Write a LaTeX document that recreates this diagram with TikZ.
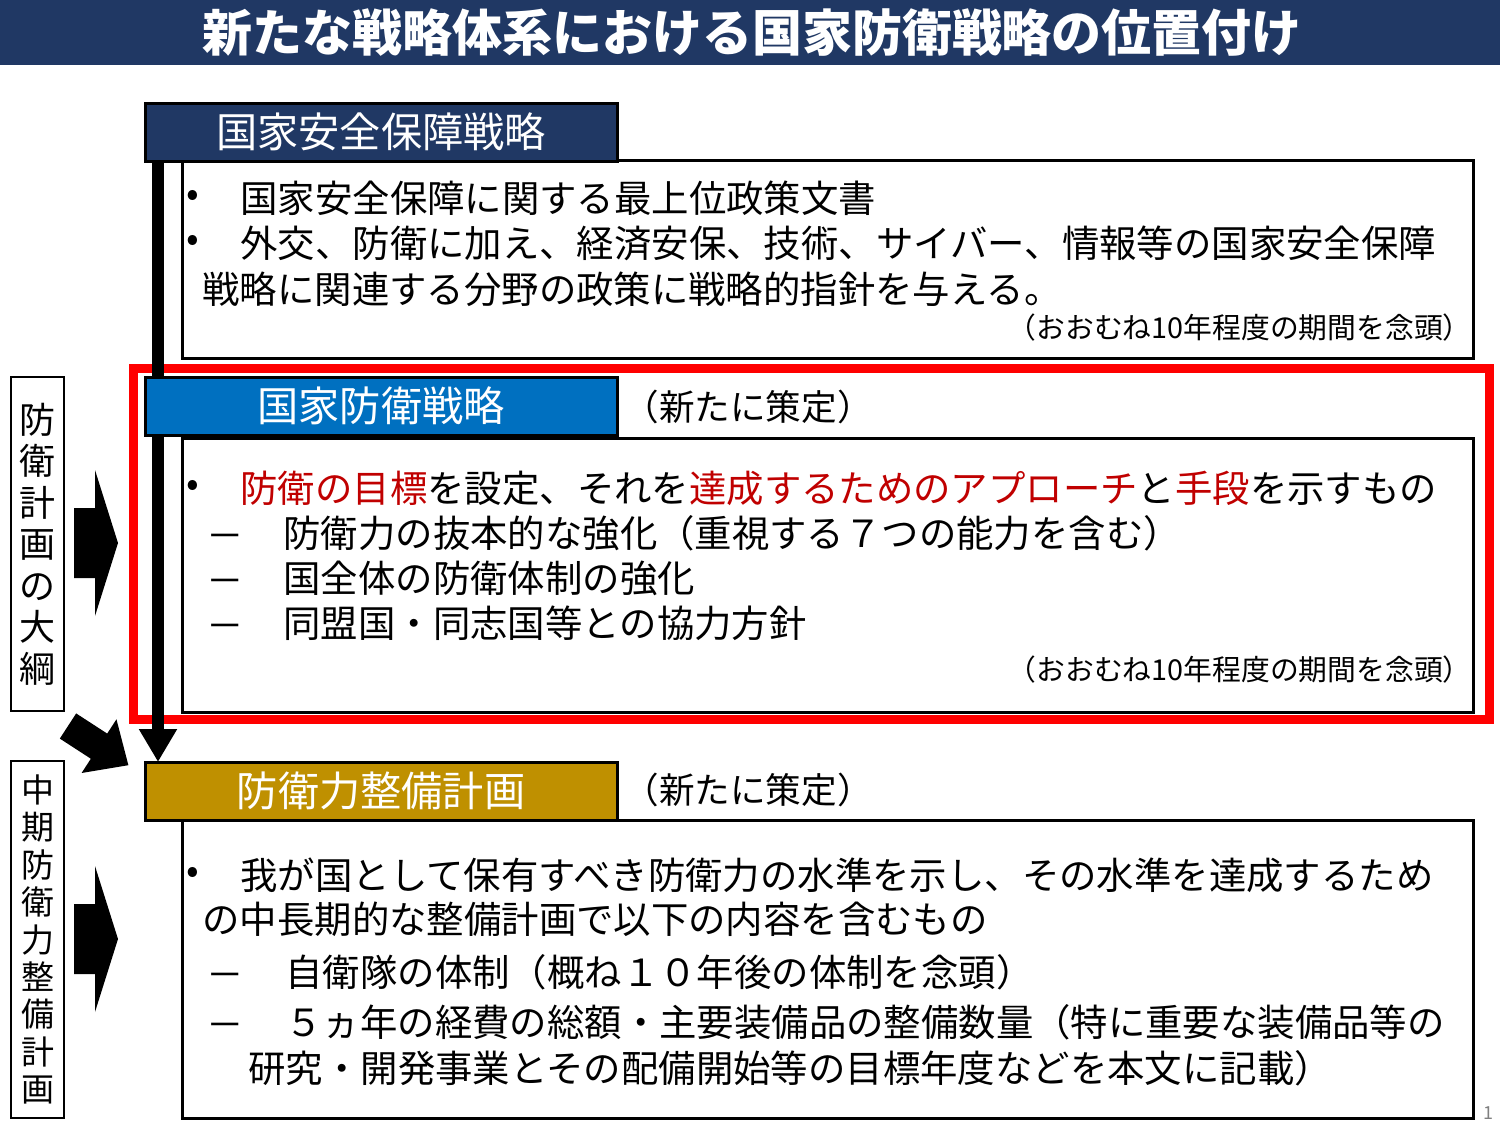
\documentclass[tikz,border=0pt]{standalone}
\usepackage{fontspec}
\setmainfont{Noto Sans CJK JP}
\usetikzlibrary{arrows.meta, fit, positioning}
\definecolor{navy}{HTML}{203864}
\definecolor{hblue}{HTML}{0070C0}
\definecolor{gold}{HTML}{BF9000}
\definecolor{dred}{HTML}{C00000}
\tikzset{
    hdr/.style={draw=black, line width=1.5pt, text=white, minimum width=236pt, minimum height=29pt, inner sep=0pt, font=\fontsize{20.6}{22}\selectfont},
    bodybox/.style={draw=black, line width=1.5pt, inner sep=0pt},
    sidebox/.style={draw=black, line width=1.2pt, inner sep=0pt},
    txt/.style={anchor=west, inner sep=0pt, font=\fontsize{18.7}{20}\selectfont},
    dsh/.style={txt, yshift=-4.5pt},
    note/.style={anchor=east, inner sep=0pt, font=\fontsize{14.4}{16}\selectfont},
    newtag/.style={anchor=west, inner sep=0pt, font=\fontsize{17.8}{19}\selectfont},
    spine/.style={line width=6pt, -{Triangle[width=18pt, length=16.5pt]}},
}
\begin{document}
\begin{tikzpicture}[x=0.5pt, y=-0.5pt]
    \useasboundingbox (0,0) rectangle (1500,1125);
    % title
    \fill[navy] (0,0) rectangle (1500,65);
    \node[text=white, font=\fontsize{25}{27}\bfseries\selectfont] (title) at (752,33) {新たな戦略体系における国家防衛戦略の位置付け};
    % red frame
    \draw[red, line width=4.5pt] (133,368) rectangle (1489,719);
    % spine
    \coordinate (top) at (158,161);
    \coordinate (bot) at (158,762);
    \draw[spine] (top) -- (bot);
    % body boxes
    \node[bodybox, fit={(182,160) (1473,358)}] (b1) {};
    \node[bodybox, fit={(182,438) (1473,712)}] (b2) {};
    \node[bodybox, fit={(182,820) (1473,1118)}] (b3) {};
    % headers
    \node[hdr, fill=navy] (h1) at (381,132) {国家安全保障戦略};
    \node[hdr, fill=hblue] (h2) at (381,406) {国家防衛戦略};
    \node[hdr, fill=gold] (h3) at (381,791) {防衛力整備計画};
    \node[newtag] (n2) at (623,407) {（新たに策定）};
    \node[newtag] (n3) at (623,790) {（新たに策定）};
    % box 1
    \node[txt] (b1a) at (186,198) {•};
    \node[txt] (b1t1) at (240,198) {国家安全保障に関する最上位政策文書};
    \node[txt] (b1b) at (186,243) {•};
    \node[txt] (b1t2) at (240,243) {外交、防衛に加え、経済安保、技術、サイバー、情報等の国家安全保障};
    \node[txt] (b1t3) at (202,289) {戦略に関連する分野の政策に戦略的指針を与える。};
    \node[note] (b1n) at (1472,328) {（おおむね10年程度の期間を念頭）};
    % box 2
    \node[txt] (b2a) at (186,488) {•};
    \node[txt] (b2t1) at (240,488) {\textcolor{dred}{防衛の目標}を設定、それを\textcolor{dred}{達成するためのアプローチ}と\textcolor{dred}{手段}を示すもの};
    \foreach \y/\s [count=\i] in {533/防衛力の抜本的な強化（重視する７つの能力を含む）, 578/国全体の防衛体制の強化, 623/同盟国・同志国等との協力方針}{
        \node[dsh] (b2d\i) at (206,\y) {－};
        \node[txt] (b2s\i) at (283,\y) {\s};
    }
    \node[note] (b2n) at (1472,670) {（おおむね10年程度の期間を念頭）};
    % box 3
    \node[txt] (b3a) at (186,875) {•};
    \node[txt] (b3t1) at (240,875) {我が国として保有すべき防衛力の水準を示し、その水準を達成するため};
    \node[txt] (b3t2) at (202,919) {の中長期的な整備計画で以下の内容を含むもの};
    \node[dsh] (b3d1) at (206,972) {－};
    \node[txt] (b3s1) at (285,972) {自衛隊の体制（概ね１０年後の体制を念頭）};
    \node[dsh] (b3d2) at (206,1022) {－};
    \node[txt] (b3s2) at (285,1022) {５ヵ年の経費の総額・主要装備品の整備数量（特に重要な装備品等の};
    \node[txt] (b3s3) at (248,1068) {研究・開発事業とその配備開始等の目標年度などを本文に記載）};
    % side labels
    \node[sidebox, fit={(11,377) (64,711)}] (l1) {};
    \node[align=center, inner sep=0pt, font=\fontsize{18}{20.75}\selectfont] at (l1.center) {防\\衛\\計\\画\\の\\大\\綱};
    \node[sidebox, fit={(11,761) (64,1118)}] (l2) {};
    \node[align=center, inner sep=0pt, font=\fontsize{16.5}{18.7}\selectfont] at (l2.center) {中\\期\\防\\衛\\力\\整\\備\\計\\画};
    % block arrows
    \foreach \yc in {543,939}{
        \fill (74,{\yc-35}) -- (95,{\yc-35}) -- (95,{\yc-73}) -- (118,\yc) -- (95,{\yc+73}) -- (95,{\yc+35}) -- (74,{\yc+35}) -- cycle;
    }
    \begin{scope}[shift={(68,726)}, rotate=-33]
        \fill (0,15) -- (37,15) -- (37,32) -- (72,0) -- (37,-32) -- (37,-15) -- (0,-15) -- cycle;
    \end{scope}
    \node[text=gray, font=\fontsize{9}{10}\selectfont] (pg) at (1488,1113) {1};
\end{tikzpicture}
\end{document}
